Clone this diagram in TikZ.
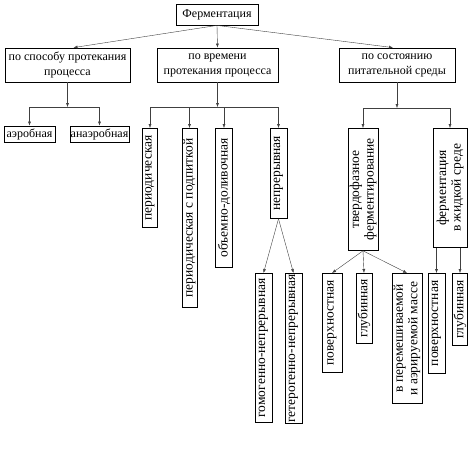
\documentclass[tikz,border=0pt]{standalone}
\usepackage{fontspec}
\setmainfont{Liberation Serif}
\usetikzlibrary{positioning,arrows.meta,calc}

\tikzset{
  hbox/.style={draw, thick, inner sep=0.5pt, align=center, font=\fontsize{12}{15}\selectfont},
  vbox/.style={draw, thick, inner sep=0.5pt, align=center, rotate=90, anchor=east, font=\fontsize{13.5}{14.5}\selectfont},
  arr/.style={-{Latex[length=4pt,width=3pt]}, draw=black!75},
  bus/.style={draw=black!75}
}

\begin{document}
\begin{tikzpicture}[x=1pt,y=-1pt]
    \useasboundingbox (0,0) rectangle (474,448);
    % top levels
    \node[hbox, minimum width=82pt, minimum height=21pt] (ferm) at (217,14.5) {Ферментация};
    \node[hbox, minimum width=125pt, minimum height=34pt] (spos) at (67.5,65) {по способу протекания\\процесса};
    \node[hbox, minimum width=121pt, minimum height=34pt] (vrem) at (217.5,65) {по времени\\протекания процесса};
    \node[hbox, minimum width=116pt, minimum height=34pt] (sost) at (397,65) {по состоянию\\питательной среды};
    \node[hbox, minimum width=51pt, minimum height=16pt] (aer) at (29.5,134) {аэробная};
    \node[hbox, minimum width=59pt, minimum height=16pt] (anaer) at (99.5,134) {анаэробная};
    % vertical boxes: x/top/length/thickness/name/text
    \foreach \x/\y/\blen/\bthk/\name/\txt in {150/128/99/15/per/периодическая,
        189.5/128/179/15/perpod/периодическая с подпиткой,
        224/128/139/17/obdol/объемно-доливочная,
        278.5/128/90/17/nepr/непрерывная,
        263.5/273/149/17/gomo/гомогенно-непрерывная,
        293.5/273/150/17/getero/гетерогенно-непрерывная,
        363/128/122/30/tverd/{твердофазное\\ферментирование},
        450/128/119/34/zhid/{ферментация\\в жидкой среде},
        332/273/99/20/pov1/поверхностная,
        364/273/70/16/glub1/глубинная,
        407/273/130/30/vperem/{в перемешиваемой\\и аэрируемой массе},
        436.5/273/100/17/pov2/поверхностная,
        460/273/72/15/glub2/глубинная}
      {\node[vbox, minimum width=\blen pt, minimum height=\bthk pt] (\name) at (\x,\y) {\txt};}

    \draw[arr] (ferm.south) -- ([xshift=6pt]spos.north);
    \draw[arr] (ferm.south) -- (vrem.north);
    \draw[arr] (ferm.south) -- ([xshift=-4pt]sost.north);

    % buses
    \coordinate (b1) at (spos.south |- 0,107);
    \coordinate (b2) at (vrem.south |- 0,107);
    \coordinate (b3) at (sost.south |- 0,108);
    \draw[arr] (spos.south) -- (b1);
    \draw[arr] (vrem.south) -- (b2);
    \draw[arr] (sost.south) -- (b3);
    \draw[bus] (aer.north |- b1) -- (anaer.north |- b1);
    \draw[bus] (per.east |- b2) -- (nepr.east |- b2);
    \draw[bus] (tverd.east |- b3) -- (zhid.east |- b3);
    \foreach \n in {aer,anaer}{\draw[arr] (\n.north |- b1) -- (\n.north);}
    \foreach \n in {per,perpod,obdol,nepr}{\draw[arr] (\n.east |- b2) -- (\n.east);}
    \foreach \n in {tverd,zhid}{\draw[arr] (\n.east |- b3) -- (\n.east);}

    % lower level
    \foreach \n in {gomo,getero}{\draw[arr] (nepr.west) -- (\n.east);}
    \foreach \n in {pov1,glub1,vperem}{\draw[arr] (tverd.west) -- (\n.east);}
    \foreach \n in {pov2,glub2}{\draw[arr] (\n.east |- zhid.west) -- (\n.east);}
\end{tikzpicture}
\end{document}
